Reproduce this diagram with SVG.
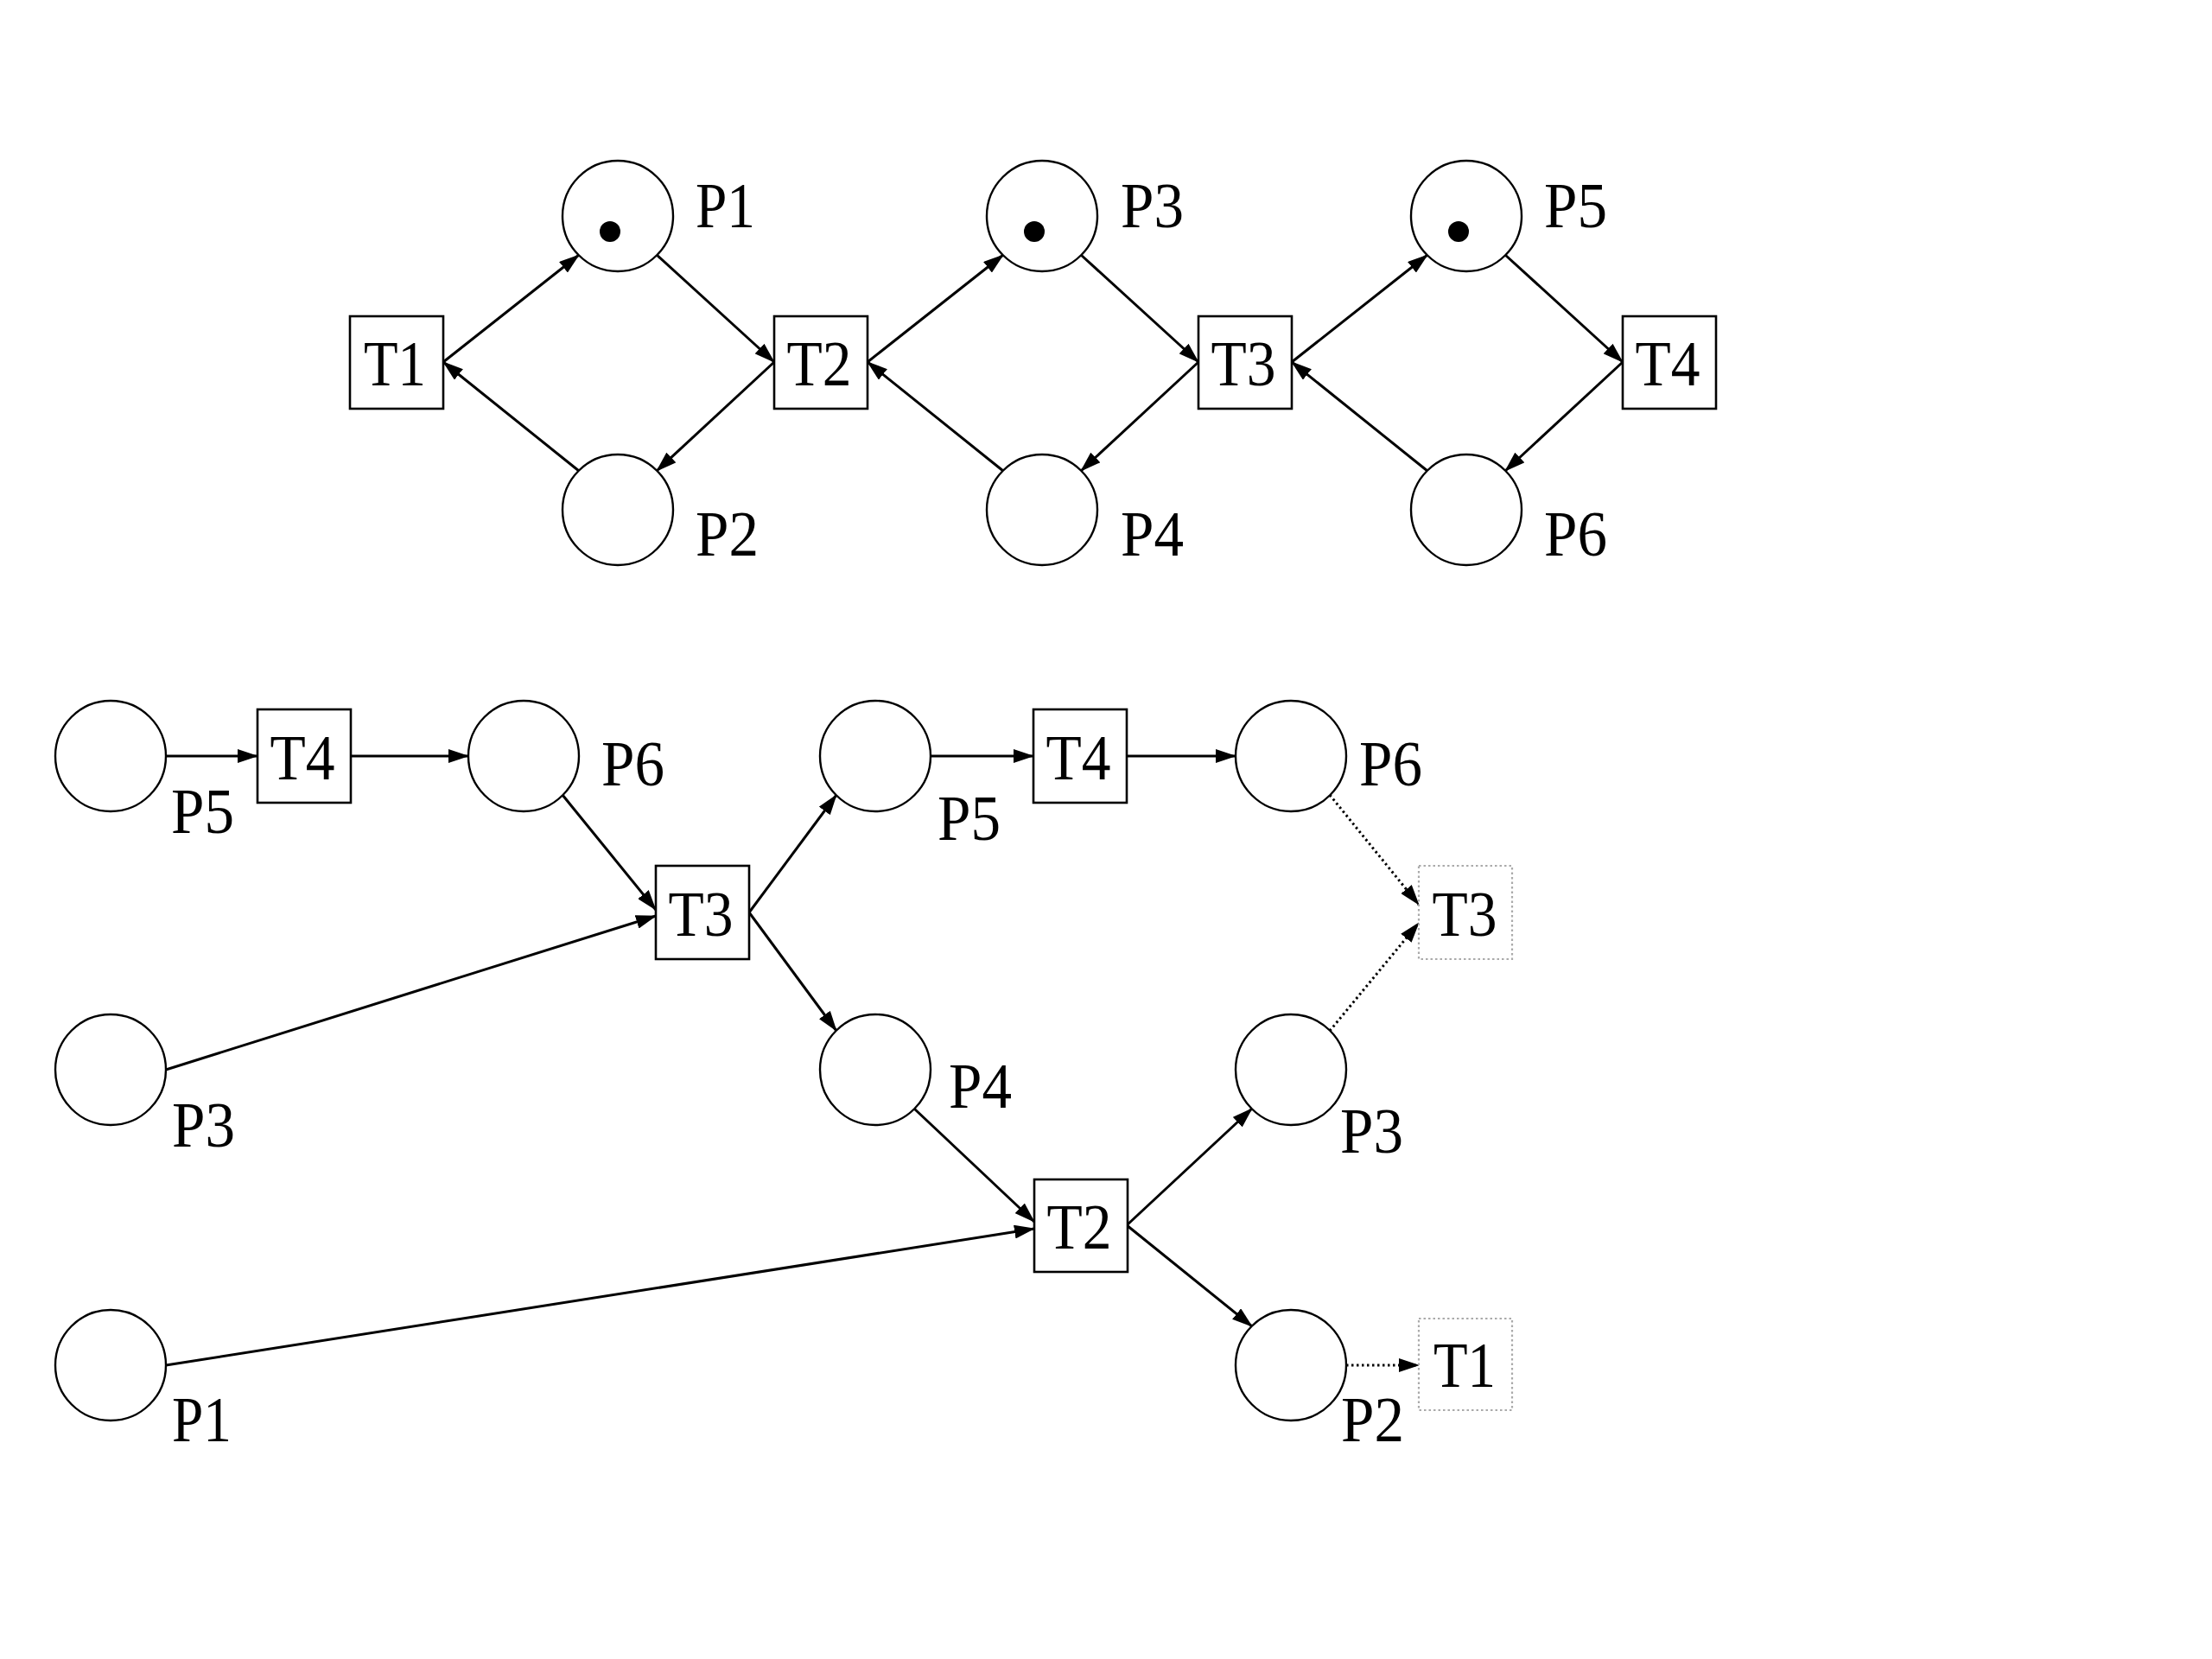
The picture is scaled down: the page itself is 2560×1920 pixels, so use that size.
<svg xmlns="http://www.w3.org/2000/svg" width="2560" height="1920" viewBox="0 0 2560 1920">
<style>
.pl{fill:#fff;stroke:#000;stroke-width:2.4}
.tr{fill:#fff;stroke:#000;stroke-width:2.6}
.trd{fill:#fff;stroke:#aaa;stroke-width:2.2;stroke-dasharray:2.5 3}
.tok{fill:#000}
text{font-family:"Liberation Serif","Times New Roman",Times,serif;font-size:73px;fill:#000}
.c{text-anchor:middle}
.a{stroke:#000;stroke-width:3;fill:none;marker-end:url(#ah)}
.ad{stroke:#000;stroke-width:3;fill:none;stroke-dasharray:2.5 3.5;marker-end:url(#ah)}
</style>
<defs>
<marker id="ah" viewBox="0 0 24 16" refX="23" refY="8" markerWidth="24" markerHeight="16" orient="auto" markerUnits="userSpaceOnUse">
<path d="M0,0 L24,8 L0,16 z" fill="#000"/>
</marker>
</defs>
<rect width="2560" height="1920" fill="#fff"/>

<g id="connectors">
<line class="a" x1="513" y1="419" x2="670" y2="295"/>
<line class="a" x1="670" y1="545" x2="513" y2="419"/>
<line class="a" x1="760" y1="295" x2="896" y2="419"/>
<line class="a" x1="896" y1="419" x2="760" y2="545"/>
<line class="a" x1="1004" y1="419" x2="1161" y2="295"/>
<line class="a" x1="1161" y1="545" x2="1004" y2="419"/>
<line class="a" x1="1251" y1="295" x2="1387" y2="419"/>
<line class="a" x1="1387" y1="419" x2="1251" y2="545"/>
<line class="a" x1="1495" y1="419" x2="1652" y2="295"/>
<line class="a" x1="1652" y1="545" x2="1495" y2="419"/>
<line class="a" x1="1742" y1="295" x2="1878" y2="419"/>
<line class="a" x1="1878" y1="419" x2="1742" y2="545"/>
<line class="a" x1="192" y1="875" x2="298" y2="875"/>
<line class="a" x1="406" y1="875" x2="542" y2="875"/>
<line class="a" x1="651" y1="920" x2="759" y2="1053"/>
<line class="a" x1="192" y1="1238" x2="759" y2="1060"/>
<line class="a" x1="867" y1="1056" x2="968" y2="920"/>
<line class="a" x1="867" y1="1056" x2="968" y2="1193"/>
<line class="a" x1="1077" y1="875" x2="1196" y2="875"/>
<line class="a" x1="1304" y1="875" x2="1430" y2="875"/>
<line class="ad" x1="1539" y1="920" x2="1642" y2="1047"/>
<line class="ad" x1="1539" y1="1193" x2="1642" y2="1068"/>
<line class="a" x1="1058" y1="1283" x2="1197" y2="1414"/>
<line class="a" x1="192" y1="1580" x2="1197" y2="1422"/>
<line class="a" x1="1304" y1="1418" x2="1449" y2="1283"/>
<line class="a" x1="1304" y1="1418" x2="1449" y2="1535"/>
<line class="ad" x1="1558" y1="1580" x2="1642" y2="1580"/>
</g>

<g id="top-T1"><rect class="tr" x="405" y="366" width="108" height="107"/><text class="c" x="457" y="446" textLength="72" lengthAdjust="spacingAndGlyphs">T1</text></g>
<g id="top-T2"><rect class="tr" x="896" y="366" width="108" height="107"/><text class="c" x="948" y="446" textLength="75" lengthAdjust="spacingAndGlyphs">T2</text></g>
<g id="top-T3"><rect class="tr" x="1387" y="366" width="108" height="107"/><text class="c" x="1439" y="446" textLength="75" lengthAdjust="spacingAndGlyphs">T3</text></g>
<g id="top-T4"><rect class="tr" x="1878" y="366" width="108" height="107"/><text class="c" x="1930" y="446" textLength="75" lengthAdjust="spacingAndGlyphs">T4</text></g>
<g id="top-P1"><circle class="pl" cx="715" cy="250" r="64"/><circle class="tok" cx="706" cy="268" r="12"/><text x="805" y="263" textLength="69" lengthAdjust="spacingAndGlyphs">P1</text></g>
<g id="top-P2"><circle class="pl" cx="715" cy="590" r="64"/><text x="805" y="643" textLength="73" lengthAdjust="spacingAndGlyphs">P2</text></g>
<g id="top-P3"><circle class="pl" cx="1206" cy="250" r="64"/><circle class="tok" cx="1197" cy="268" r="12"/><text x="1297" y="263" textLength="73" lengthAdjust="spacingAndGlyphs">P3</text></g>
<g id="top-P4"><circle class="pl" cx="1206" cy="590" r="64"/><text x="1297" y="643" textLength="73" lengthAdjust="spacingAndGlyphs">P4</text></g>
<g id="top-P5"><circle class="pl" cx="1697" cy="250" r="64"/><circle class="tok" cx="1688" cy="268" r="12"/><text x="1787" y="263" textLength="73" lengthAdjust="spacingAndGlyphs">P5</text></g>
<g id="top-P6"><circle class="pl" cx="1697" cy="590" r="64"/><text x="1787" y="643" textLength="73" lengthAdjust="spacingAndGlyphs">P6</text></g>

<g id="b-P5a"><circle class="pl" cx="128" cy="875" r="64"/><text x="198" y="964" textLength="73" lengthAdjust="spacingAndGlyphs">P5</text></g>
<g id="b-T4a"><rect class="tr" x="298" y="821" width="108" height="108"/><text class="c" x="350" y="902" textLength="75" lengthAdjust="spacingAndGlyphs">T4</text></g>
<g id="b-P6a"><circle class="pl" cx="606" cy="875" r="64"/><text x="696" y="909" textLength="73" lengthAdjust="spacingAndGlyphs">P6</text></g>
<g id="b-P3a"><circle class="pl" cx="128" cy="1238" r="64"/><text x="199" y="1327" textLength="73" lengthAdjust="spacingAndGlyphs">P3</text></g>
<g id="b-P1"><circle class="pl" cx="128" cy="1580" r="64"/><text x="199" y="1668" textLength="69" lengthAdjust="spacingAndGlyphs">P1</text></g>
<g id="b-T3a"><rect class="tr" x="759" y="1002" width="108" height="108"/><text class="c" x="811" y="1083" textLength="75" lengthAdjust="spacingAndGlyphs">T3</text></g>
<g id="b-P5b"><circle class="pl" cx="1013" cy="875" r="64"/><text x="1085" y="972" textLength="73" lengthAdjust="spacingAndGlyphs">P5</text></g>
<g id="b-T4b"><rect class="tr" x="1196" y="821" width="108" height="108"/><text class="c" x="1248" y="902" textLength="75" lengthAdjust="spacingAndGlyphs">T4</text></g>
<g id="b-P6b"><circle class="pl" cx="1494" cy="875" r="64"/><text x="1573" y="909" textLength="73" lengthAdjust="spacingAndGlyphs">P6</text></g>
<g id="b-T3b"><rect class="trd" x="1642" y="1002" width="108" height="108"/><text class="c" x="1695" y="1083" textLength="75" lengthAdjust="spacingAndGlyphs">T3</text></g>
<g id="b-P4"><circle class="pl" cx="1013" cy="1238" r="64"/><text x="1098" y="1282" textLength="73" lengthAdjust="spacingAndGlyphs">P4</text></g>
<g id="b-P3b"><circle class="pl" cx="1494" cy="1238" r="64"/><text x="1551" y="1334" textLength="73" lengthAdjust="spacingAndGlyphs">P3</text></g>
<g id="b-T2"><rect class="tr" x="1197" y="1365" width="108" height="107"/><text class="c" x="1249" y="1445" textLength="75" lengthAdjust="spacingAndGlyphs">T2</text></g>
<g id="b-P2"><circle class="pl" cx="1494" cy="1580" r="64"/><text x="1552" y="1668" textLength="73" lengthAdjust="spacingAndGlyphs">P2</text></g>
<g id="b-T1"><rect class="trd" x="1642" y="1526" width="108" height="106"/><text class="c" x="1695" y="1605" textLength="72" lengthAdjust="spacingAndGlyphs">T1</text></g>
</svg>
